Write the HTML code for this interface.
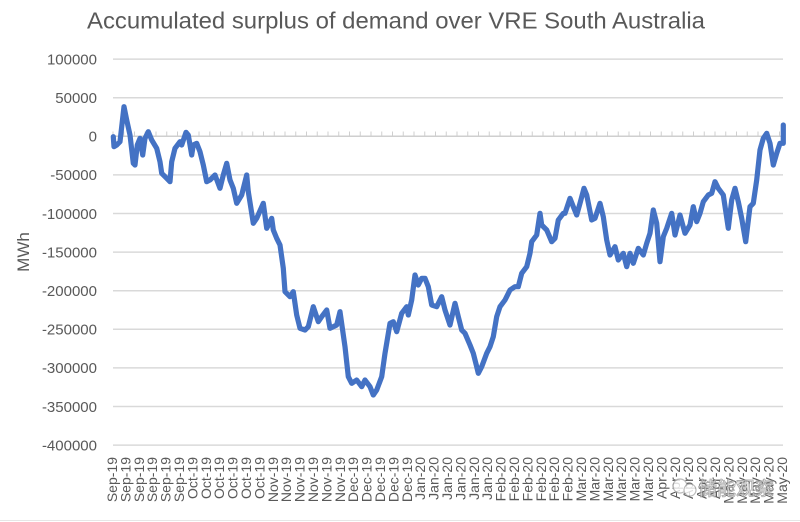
<!DOCTYPE html>
<html>
<head>
<meta charset="utf-8">
<style>
  html,body{margin:0;padding:0;background:#fff;}
  svg{display:block;}
  text{font-family:"Liberation Sans","Noto Sans CJK SC",sans-serif;}
</style>
</head>
<body>
<svg width="800" height="522" viewBox="0 0 800 522" xmlns="http://www.w3.org/2000/svg">
  <rect x="0" y="0" width="800" height="522" fill="#fff"/>
  <!-- title -->
  <text x="87" y="28.5" font-size="23" fill="#595959" textLength="618" lengthAdjust="spacingAndGlyphs">Accumulated surplus of demand over VRE South Australia</text>

  <!-- gridlines -->
  <g stroke="#d9d9d9" stroke-width="1.5">
    <line x1="113" y1="59.1" x2="783" y2="59.1"/>
    <line x1="113" y1="97.7" x2="783" y2="97.7"/>
    <line x1="113" y1="174.9" x2="783" y2="174.9"/>
    <line x1="113" y1="213.5" x2="783" y2="213.5"/>
    <line x1="113" y1="252.1" x2="783" y2="252.1"/>
    <line x1="113" y1="290.7" x2="783" y2="290.7"/>
    <line x1="113" y1="329.3" x2="783" y2="329.3"/>
    <line x1="113" y1="367.9" x2="783" y2="367.9"/>
    <line x1="113" y1="406.5" x2="783" y2="406.5"/>
    <line x1="113" y1="445.1" x2="783" y2="445.1"/>
  </g>
  <!-- zero axis with ticks -->
  <line x1="113" y1="136.3" x2="783" y2="136.3" stroke="#cfcfcf" stroke-width="1.5"/>
  <path stroke="#cfcfcf" stroke-width="1" fill="none" d="M113,131.5V136.3M123.75,131.5V136.3M134.5,131.5V136.3M145.25,131.5V136.3M156,131.5V136.3M166.75,131.5V136.3M177.5,131.5V136.3M188.25,131.5V136.3M199,131.5V136.3M209.75,131.5V136.3M220.5,131.5V136.3M231.25,131.5V136.3M242,131.5V136.3M252.75,131.5V136.3M263.5,131.5V136.3M274.25,131.5V136.3M285,131.5V136.3M295.75,131.5V136.3M306.5,131.5V136.3M317.25,131.5V136.3M328,131.5V136.3M338.75,131.5V136.3M349.5,131.5V136.3M360.25,131.5V136.3M371,131.5V136.3M381.75,131.5V136.3M392.5,131.5V136.3M403.25,131.5V136.3M414,131.5V136.3M424.75,131.5V136.3M435.5,131.5V136.3M446.25,131.5V136.3M457,131.5V136.3M467.75,131.5V136.3M478.5,131.5V136.3M489.25,131.5V136.3M500,131.5V136.3M510.75,131.5V136.3M521.5,131.5V136.3M532.25,131.5V136.3M543,131.5V136.3M553.75,131.5V136.3M564.5,131.5V136.3M575.25,131.5V136.3M586,131.5V136.3M596.75,131.5V136.3M607.5,131.5V136.3M618.25,131.5V136.3M629,131.5V136.3M639.75,131.5V136.3M650.5,131.5V136.3M661.25,131.5V136.3M672,131.5V136.3M682.75,131.5V136.3M693.5,131.5V136.3M704.25,131.5V136.3M715,131.5V136.3M725.75,131.5V136.3M736.5,131.5V136.3M747.25,131.5V136.3M758,131.5V136.3M768.75,131.5V136.3M779.5,131.5V136.3"/>

  <!-- y labels -->
  <g font-size="15" fill="#595959" text-anchor="end">
    <text x="97" y="64.4">100000</text>
    <text x="97" y="103">50000</text>
    <text x="97" y="141.6">0</text>
    <text x="97" y="180.2">-50000</text>
    <text x="97" y="218.8">-100000</text>
    <text x="97" y="257.4">-150000</text>
    <text x="97" y="296">-200000</text>
    <text x="97" y="334.6">-250000</text>
    <text x="97" y="373.2">-300000</text>
    <text x="97" y="411.8">-350000</text>
    <text x="97" y="450.4">-400000</text>
  </g>
  <text transform="translate(29,252) rotate(-90)" font-size="17" fill="#595959" text-anchor="middle">MWh</text>

  <!-- x labels -->
  <g font-size="14" fill="#595959" text-anchor="end">
    <text transform="translate(117,457) rotate(-90)">Sep-19</text>
    <text transform="translate(130.4,457) rotate(-90)">Sep-19</text>
    <text transform="translate(143.8,457) rotate(-90)">Sep-19</text>
    <text transform="translate(157.2,457) rotate(-90)">Sep-19</text>
    <text transform="translate(170.6,457) rotate(-90)">Sep-19</text>
    <text transform="translate(184,457) rotate(-90)">Sep-19</text>
    <text transform="translate(197.4,457) rotate(-90)">Oct-19</text>
    <text transform="translate(210.8,457) rotate(-90)">Oct-19</text>
    <text transform="translate(224.2,457) rotate(-90)">Oct-19</text>
    <text transform="translate(237.6,457) rotate(-90)">Oct-19</text>
    <text transform="translate(251,457) rotate(-90)">Oct-19</text>
    <text transform="translate(264.4,457) rotate(-90)">Oct-19</text>
    <text transform="translate(277.8,457) rotate(-90)">Nov-19</text>
    <text transform="translate(291.2,457) rotate(-90)">Nov-19</text>
    <text transform="translate(304.6,457) rotate(-90)">Nov-19</text>
    <text transform="translate(318,457) rotate(-90)">Nov-19</text>
    <text transform="translate(331.4,457) rotate(-90)">Nov-19</text>
    <text transform="translate(344.8,457) rotate(-90)">Nov-19</text>
    <text transform="translate(358.2,457) rotate(-90)">Dec-19</text>
    <text transform="translate(371.6,457) rotate(-90)">Dec-19</text>
    <text transform="translate(385,457) rotate(-90)">Dec-19</text>
    <text transform="translate(398.4,457) rotate(-90)">Dec-19</text>
    <text transform="translate(411.8,457) rotate(-90)">Dec-19</text>
    <text transform="translate(425.2,457) rotate(-90)">Jan-20</text>
    <text transform="translate(438.6,457) rotate(-90)">Jan-20</text>
    <text transform="translate(452,457) rotate(-90)">Jan-20</text>
    <text transform="translate(465.4,457) rotate(-90)">Jan-20</text>
    <text transform="translate(478.8,457) rotate(-90)">Jan-20</text>
    <text transform="translate(492.2,457) rotate(-90)">Jan-20</text>
    <text transform="translate(505.6,457) rotate(-90)">Feb-20</text>
    <text transform="translate(519,457) rotate(-90)">Feb-20</text>
    <text transform="translate(532.4,457) rotate(-90)">Feb-20</text>
    <text transform="translate(545.8,457) rotate(-90)">Feb-20</text>
    <text transform="translate(559.2,457) rotate(-90)">Feb-20</text>
    <text transform="translate(572.6,457) rotate(-90)">Feb-20</text>
    <text transform="translate(586,457) rotate(-90)">Mar-20</text>
    <text transform="translate(599.4,457) rotate(-90)">Mar-20</text>
    <text transform="translate(612.8,457) rotate(-90)">Mar-20</text>
    <text transform="translate(626.2,457) rotate(-90)">Mar-20</text>
    <text transform="translate(639.6,457) rotate(-90)">Mar-20</text>
    <text transform="translate(653,457) rotate(-90)">Mar-20</text>
    <text transform="translate(666.4,457) rotate(-90)">Apr-20</text>
    <text transform="translate(679.8,457) rotate(-90)">Apr-20</text>
    <text transform="translate(693.2,457) rotate(-90)">Apr-20</text>
    <text transform="translate(706.6,457) rotate(-90)">Apr-20</text>
    <text transform="translate(720,457) rotate(-90)">Apr-20</text>
    <text transform="translate(733.4,457) rotate(-90)">May-20</text>
    <text transform="translate(746.8,457) rotate(-90)">May-20</text>
    <text transform="translate(760.2,457) rotate(-90)">May-20</text>
    <text transform="translate(773.6,457) rotate(-90)">May-20</text>
    <text transform="translate(787,457) rotate(-90)">May-20</text>
  </g>

  <!-- series -->
  <polyline fill="none" stroke="#4472c4" stroke-width="5.2" stroke-linejoin="round" stroke-linecap="round"
    points="113.3,136.7 114,146.7 116.7,145 120,141.7 124,106.7 126.7,120 130,135 133.3,163.3 135,165 137.3,145 140,138.3 142.7,155 145,138.3 148.3,131.7 151.7,140 156.7,148.3 160,161.7 161.7,173.3 166.7,178.3 170,181.7 171.7,161.7 175,148.3 180,141.7 181.7,145 186,132.3 188.3,135 191.7,155 193.3,145 196.7,143.3 200,151.7 203.3,165 206.7,181.7 210,180 215,175 220,188.3 223.3,175 226.7,163.3 230,180 233.3,188.3 236.7,203.3 241.7,195 246.7,175 248.3,191.7 253.3,223.3 256.7,218.3 263.3,203.3 266.7,228.3 271.7,218.3 273.3,230 276.7,238.3 280,245 283.3,268.3 285,291.7 290,296.7 293.3,291.7 296.7,315 300,328.3 305,330 308.3,326.7 313.3,306.7 318.3,321.7 321.7,316.7 326.7,310 330,328.3 336.7,325 340,311.7 345,346.7 348.3,376.7 351.7,383.3 356.7,380 361.7,386.7 365,380 370,386.7 373.3,395 376.7,390 381.7,376.7 385,353.3 390,323.3 393.3,321.7 396.7,331.7 401.7,313.3 406.7,306.7 408.3,315 411.7,300 415,275 418.3,285 421.7,278.3 425,278.3 428.3,286.7 431.7,305 436.7,306.7 441.7,296.7 445,310 450,325 455,303.3 458.3,316.7 461.7,330 465,333.3 470,345 473.3,353.3 476.7,366.7 478.3,373.3 481.7,366.7 486.7,353.3 490,346.7 493.3,336.7 496.7,316.7 500,306.7 505,300 510,290 515,286.7 518.3,286.7 521.7,273.3 526.7,266.7 530,253.3 531.7,241.7 536.7,235 540,213.3 541.7,225 546.7,230 551.7,241.7 555,238.3 558.3,220 563.3,213.3 565,213.3 570,198.3 573.3,206.7 576.7,215 580,203.3 584,188.3 586.7,195 591.7,220 595,218.3 600,203.3 603.3,216.7 606.7,240 610,255 615,246.7 618.3,260 623.3,253.3 626.7,266.7 630,253.3 633.3,263.3 638.3,248.3 643.3,255 646.7,243.3 650,233.3 653.3,210 656.7,223.3 660,261.7 663.3,236.7 666.7,228.3 671.7,213.3 675,235 680,215 685,233.3 690,225 693.3,206.7 696.7,221.7 700,213.3 703.3,201.7 708.3,195 711.7,193.3 715,181.7 718.3,188.3 723.3,195 728.3,228.3 731.7,200 735,188.3 738.3,201.7 741.7,218.3 745.7,241.7 750,206.7 753.3,203.3 756.7,180 760,150 763.3,138.3 766.7,133.3 770,143.3 773.3,165 776.7,153.3 780,143.3 783.3,143.3 783.3,125"/>

  <!-- watermark -->
  <g opacity="0.8">
    <circle cx="680" cy="486" r="7" fill="#fff" stroke="#aaa" stroke-width="1.2"/>
    <circle cx="690" cy="490" r="6" fill="#fff" stroke="#aaa" stroke-width="1.2"/>
    <text x="698" y="495" font-size="19" fill="#fff" stroke="#9a9a9a" stroke-width="0.9" font-family="'Noto Sans CJK SC',sans-serif">储能观察</text>
  </g>

  <line x1="0" y1="520.5" x2="800" y2="520.5" stroke="#e6e6e6" stroke-width="1"/>
</svg>
</body>
</html>
